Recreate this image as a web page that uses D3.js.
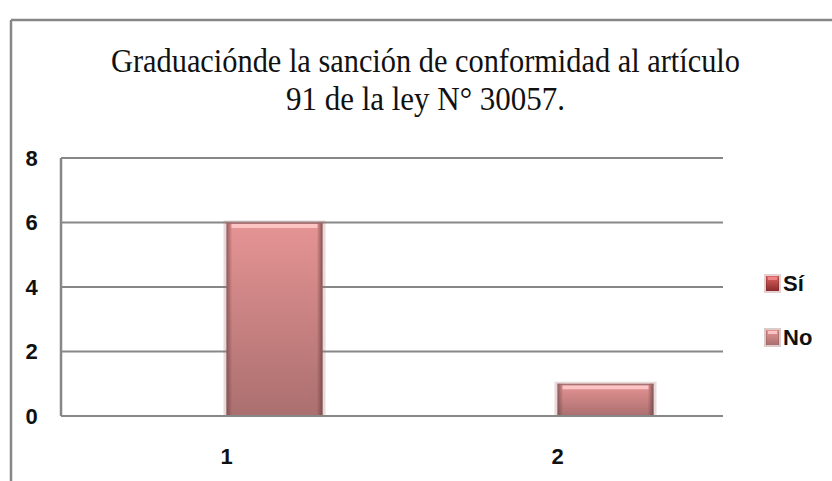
<!DOCTYPE html>
<html>
<head>
<meta charset="utf-8">
<script src="https://cdn.jsdelivr.net/npm/d3@7"></script>
<style>
  html, body { margin: 0; padding: 0; background: #fff; }
  svg { display: block; }
</style>
</head>
<body>
<div id="chart"></div>
<script>
// chart data
const categories = ['1', '2'];
const seriesNames = ['Sí', 'No'];
const siValues = [0, 0];
const noValues = [6, 1];
const yTicks = [0, 2, 4, 6, 8];
const titleLines = ['Graduaciónde la sanción de conformidad al artículo', '91 de la ley N° 30057.'];

const width = 832, height = 481;
const plot = { left: 61, right: 723, top: 158, bottom: 416 };

const svg = d3.select('#chart').append('svg')
  .attr('width', width)
  .attr('height', height);

const defs = svg.append('defs');

// bar gradients (vertical body + horizontal side shading)
function addGradients(id, top, bottom, edge) {
  const v = defs.append('linearGradient').attr('id', id + '-v')
    .attr('x1', 0).attr('y1', 0).attr('x2', 0).attr('y2', 1);
  v.append('stop').attr('offset', '0%').attr('stop-color', top);
  v.append('stop').attr('offset', '100%').attr('stop-color', bottom);
  const h = defs.append('linearGradient').attr('id', id + '-h')
    .attr('x1', 0).attr('y1', 0).attr('x2', 1).attr('y2', 0);
  h.append('stop').attr('offset', '0%').attr('stop-color', edge).attr('stop-opacity', 0.7);
  h.append('stop').attr('offset', '6%').attr('stop-color', edge).attr('stop-opacity', 0);
  h.append('stop').attr('offset', '94%').attr('stop-color', edge).attr('stop-opacity', 0);
  h.append('stop').attr('offset', '100%').attr('stop-color', edge).attr('stop-opacity', 0.8);
}
addGradients('si', '#e06464', '#8c2a2a', '#5a1a1a');
addGradients('no', '#e69494', '#ab6f6f', '#6e4444');

const colors = { 'Sí': { id: 'si', hi: '#f08a8a', edge: '#b07a7a' }, 'No': { id: 'no', hi: '#ffcaca', edge: '#9a6a6a' } };

// outer frame (top + left only)
svg.append('line').attr('x1', 11).attr('x2', width).attr('y1', 20).attr('y2', 20)
  .attr('stroke', '#878787').attr('stroke-width', 2.5);
svg.append('line').attr('x1', 11).attr('x2', 11).attr('y1', 20).attr('y2', height)
  .attr('stroke', '#878787').attr('stroke-width', 2.5);

// title
const titleWidths = [629, 279];
const titleBase = [72, 110];
titleLines.forEach((t, i) => {
  svg.append('text')
    .attr('x', 425.5)
    .attr('y', titleBase[i])
    .attr('text-anchor', 'middle')
    .attr('font-family', '"Liberation Serif", "Times New Roman", serif')
    .attr('font-size', 34)
    .attr('fill', '#111')
    .attr('textLength', titleWidths[i])
    .attr('lengthAdjust', 'spacingAndGlyphs')
    .text(t);
});

// scales
const x = d3.scaleBand().domain(categories).range([plot.left, plot.right]).padding(0);
const xInner = d3.scaleBand().domain(seriesNames).range([0, x.bandwidth()])
  .paddingInner(0).paddingOuter(0.724);
const y = d3.scaleLinear().domain([0, 8]).range([plot.bottom, plot.top]);

// gridlines
svg.append('g').selectAll('line').data(yTicks).join('line')
  .attr('x1', plot.left).attr('x2', plot.right)
  .attr('y1', d => y(d)).attr('y2', d => y(d))
  .attr('stroke', '#878787').attr('stroke-width', 2.2);

// left axis line
svg.append('line').attr('x1', plot.left).attr('x2', plot.left)
  .attr('y1', plot.top).attr('y2', plot.bottom)
  .attr('stroke', '#878787').attr('stroke-width', 2.5);

// y tick labels
svg.append('g').selectAll('text').data(yTicks).join('text')
  .attr('x', 31.5).attr('y', d => y(d))
  .attr('dy', '0.36em')
  .attr('text-anchor', 'middle')
  .attr('font-family', '"Liberation Sans", Arial, sans-serif')
  .attr('font-weight', 'bold')
  .attr('font-size', 22)
  .attr('fill', '#111')
  .text(d => d);

// x tick labels
svg.append('g').selectAll('text').data(categories).join('text')
  .attr('x', d => x(d) + x.bandwidth() / 2).attr('y', 456)
  .attr('dy', '0.36em')
  .attr('text-anchor', 'middle')
  .attr('font-family', '"Liberation Sans", Arial, sans-serif')
  .attr('font-weight', 'bold')
  .attr('font-size', 22)
  .attr('fill', '#111')
  .text(d => d);

// bars
const barData = [];
categories.forEach((c, i) => {
  barData.push({ cat: c, series: 'Sí', value: siValues[i] });
  barData.push({ cat: c, series: 'No', value: noValues[i] });
});

const bars = svg.append('g').selectAll('g').data(barData.filter(d => d.value > 0)).join('g')
  .attr('transform', d => `translate(${x(d.cat) + xInner(d.series)},${y(d.value)})`);

// soft halo
bars.append('rect')
  .attr('x', -3).attr('y', -2)
  .attr('width', xInner.bandwidth() + 6)
  .attr('height', d => y(0) - y(d.value) + 2)
  .attr('fill', d => colors[d.series].edge)
  .attr('opacity', 0.25);
bars.append('rect')
  .attr('width', xInner.bandwidth())
  .attr('height', d => y(0) - y(d.value))
  .attr('fill', d => `url(#${colors[d.series].id}-v)`);
bars.append('rect')
  .attr('width', xInner.bandwidth())
  .attr('height', d => y(0) - y(d.value))
  .attr('fill', d => `url(#${colors[d.series].id}-h)`);
// top highlight
bars.append('rect')
  .attr('x', 5).attr('y', 1.5)
  .attr('width', xInner.bandwidth() - 10)
  .attr('height', 4)
  .attr('fill', d => colors[d.series].hi)
  .attr('opacity', 0.9);
bars.append('rect')
  .attr('x', 0).attr('y', 0)
  .attr('width', xInner.bandwidth())
  .attr('height', 1.5)
  .attr('fill', d => colors[d.series].edge)
  .attr('opacity', 0.8);

// redraw baseline above bars
svg.append('line').attr('x1', plot.left).attr('x2', plot.right)
  .attr('y1', y(0)).attr('y2', y(0))
  .attr('stroke', '#878787').attr('stroke-width', 2.2);

// legend
const legendY = [283, 337];
const legend = svg.append('g').selectAll('g').data(seriesNames).join('g')
  .attr('transform', (d, i) => `translate(766,${legendY[i]})`);
legend.append('rect')
  .attr('x', -2).attr('y', -9).attr('width', 17).attr('height', 19)
  .attr('fill', d => colors[d].edge).attr('opacity', 0.35);
legend.append('rect')
  .attr('x', 0).attr('y', -7).attr('width', 13).attr('height', 15)
  .attr('fill', d => `url(#${colors[d].id}-v)`);
legend.append('rect')
  .attr('x', 0).attr('y', -7).attr('width', 13).attr('height', 15)
  .attr('fill', d => `url(#${colors[d].id}-h)`);
legend.append('rect')
  .attr('x', 2).attr('y', -6).attr('width', 9).attr('height', 3)
  .attr('fill', d => colors[d].hi).attr('opacity', 0.9);
legend.append('text')
  .attr('x', 17).attr('y', 0)
  .attr('dy', '0.36em')
  .attr('font-family', '"Liberation Sans", Arial, sans-serif')
  .attr('font-weight', 'bold')
  .attr('font-size', 22)
  .attr('fill', '#111')
  .text(d => d);
</script>
</body>
</html>
